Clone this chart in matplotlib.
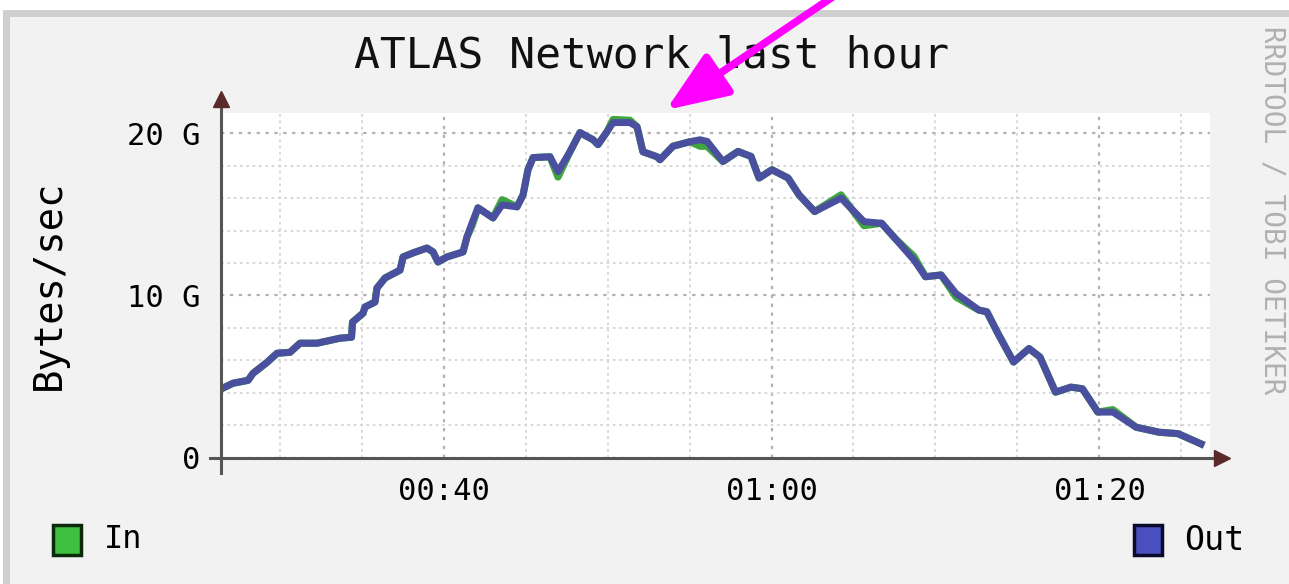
import matplotlib.pyplot as plt
from matplotlib.patches import Rectangle, FancyArrowPatch
from matplotlib.ticker import MultipleLocator

# minutes after 00:00, Bytes/sec in G
minutes = [26.48, 27.16, 28.08, 28.38, 29.24, 29.85, 30.64, 31.25, 32.29, 33.69,
           34.39, 34.45, 35.09, 35.21, 35.82, 35.94, 36.43, 37.35, 37.53, 38.14,
           38.99, 39.36, 39.66, 40.21, 41.19, 41.43, 41.74, 42.10, 43.02, 43.57,
           44.48, 44.85, 45.15, 45.46, 46.49, 46.98, 47.71, 48.32, 49.12, 49.42,
           49.97, 50.34, 51.37, 51.80, 52.16, 53.02, 53.20, 53.99, 55.03, 55.64,
           56.07, 57.04, 57.96, 58.75, 59.24, 60.03, 61.01, 61.68, 62.63, 64.24,
           65.64, 66.71, 67.53, 68.69, 69.39, 70.34, 71.25, 72.65, 73.13, 73.81,
           74.76, 75.70, 76.37, 77.32, 78.26, 78.96, 79.90, 80.82, 82.23, 83.63,
           84.79, 86.19]

out_g = [4.25, 4.58, 4.76, 5.19, 5.87, 6.43, 6.49, 7.05, 7.05, 7.36,
         7.42, 8.35, 8.90, 9.28, 9.59, 10.45, 11.07, 11.56, 12.37, 12.62,
         12.92, 12.68, 12.06, 12.37, 12.68, 13.60, 14.47, 15.40, 14.78, 15.58,
         15.46, 16.20, 17.75, 18.50, 18.55, 17.63, 18.86, 20.04, 19.60, 19.30,
         20.10, 20.66, 20.66, 20.40, 18.86, 18.55, 18.37, 19.20, 19.48, 19.60,
         19.50, 18.26, 18.88, 18.57, 17.24, 17.75, 17.24, 16.20, 15.17, 16.00,
         14.55, 14.45, 13.52, 12.18, 11.15, 11.26, 10.12, 9.09, 8.99, 7.65,
         5.89, 6.72, 6.20, 4.03, 4.34, 4.24, 2.80, 2.80, 1.87, 1.56,
         1.47, 0.84]

in_g = [4.25, 4.58, 4.76, 5.19, 5.87, 6.43, 6.49, 7.05, 7.05, 7.36,
        7.42, 8.35, 8.90, 9.28, 9.59, 10.45, 11.07, 11.56, 12.37, 12.62,
        12.92, 12.68, 12.06, 12.37, 12.68, 13.60, 14.30, 15.40, 14.78, 15.90,
        15.46, 16.20, 17.75, 18.50, 18.55, 17.30, 18.86, 20.04, 19.60, 19.30,
        20.10, 20.85, 20.80, 20.40, 18.86, 18.55, 18.37, 19.20, 19.48, 19.20,
        19.20, 18.26, 18.88, 18.57, 17.24, 17.75, 17.24, 16.20, 15.17, 16.20,
        14.30, 14.45, 13.52, 12.40, 11.15, 11.26, 9.90, 9.09, 8.99, 7.65,
        5.89, 6.72, 6.20, 4.03, 4.34, 4.24, 2.80, 2.95, 1.87, 1.56,
        1.47, 0.84]

y_ticks = [0, 10, 20]
y_labels = ["0", "10 G", "20 G"]
x_ticks = [40, 60, 80]
x_labels = ["00:40", "01:00", "01:20"]

W, H = 1289, 584
mono = "DejaVu Sans Mono"
fig = plt.figure(figsize=(W / 100, H / 100), dpi=100, facecolor="#f2f2f2")


def px(x, y):
    # pixel position (from top-left) -> figure fraction
    return (x / W, 1 - y / H)


# frame around the rrd image
fig.patches.append(Rectangle(px(0, 10), 1, 10 / H, transform=fig.transFigure,
                             facecolor="white", edgecolor="none", zorder=0))
fig.patches.append(Rectangle(px(0, 17), 1, 7 / H, transform=fig.transFigure,
                             facecolor="#cfcfcf", edgecolor="none", zorder=0))
fig.patches.append(Rectangle((0, 0), 3 / W, 1 - 10 / H, transform=fig.transFigure,
                             facecolor="white", edgecolor="none", zorder=0))
fig.patches.append(Rectangle((3 / W, 0), 7 / W, 1 - 10 / H, transform=fig.transFigure,
                             facecolor="#cfcfcf", edgecolor="none", zorder=0))

ax = fig.add_axes([221 / W, 1 - 457.5 / H, 989 / W, 344.5 / H])
ax.set_facecolor("white")

ax.plot(minutes, in_g, color="#3fa53f", lw=5.2, solid_joinstyle="round", zorder=3)
ax.plot(minutes, out_g, color="#4a4f9f", lw=5.0, solid_joinstyle="round", zorder=4)

ax.set_xlim(26.43, 86.74)
ax.set_ylim(0, 21.25)

ax.xaxis.set_minor_locator(MultipleLocator(5))
ax.yaxis.set_minor_locator(MultipleLocator(2))
ax.set_xticks(x_ticks)
ax.set_xticklabels(x_labels)
ax.set_yticks(y_ticks)
ax.set_yticklabels(y_labels)
ax.grid(which="major", color="#b8b0b0", linestyle=(0, (1.5, 2.5)), lw=1.6)
ax.grid(which="minor", color="#d6d6d6", linestyle=(0, (1.5, 2.0)), lw=1.3)
ax.set_axisbelow(True)

ax.tick_params(which="both", length=0)
ax.tick_params(axis="x", pad=14)
ax.tick_params(axis="y", pad=15)
for lbl in ax.get_xticklabels() + ax.get_yticklabels():
    lbl.set_fontfamily(mono)
    lbl.set_fontsize(22)

for sp in ax.spines.values():
    sp.set_visible(False)

# axis lines with arrow heads
ax.plot([0, 0], [-0.045, 1.03], transform=ax.transAxes, color="#555555", lw=2.2,
        clip_on=False, zorder=5)
ax.plot([-0.011, 1.008], [0, 0], transform=ax.transAxes, color="#555555", lw=2.2,
        clip_on=False, zorder=5)
ax.plot([0], [1.04], transform=ax.transAxes, marker="^", ms=11, color="#5a2a2a",
        clip_on=False, zorder=6)
ax.plot([1.012], [0], transform=ax.transAxes, marker=">", ms=11, color="#5a2a2a",
        clip_on=False, zorder=6)

fig.text(*px(652, 55), "ATLAS Network last hour", family=mono, fontsize=31,
         ha="center", va="center", color="#111111")
ax.set_ylabel("Bytes/sec", family=mono, fontsize=28, labelpad=42)
fig.text(*px(1272, 210), "RRDTOOL / TOBI OETIKER", family=mono, fontsize=20,
         rotation=270, ha="center", va="center", color="#b0b0b0")

# legend
fig.patches.append(Rectangle(px(53, 555), 28 / W, 30 / H, transform=fig.transFigure,
                             facecolor="#3fbf3f", edgecolor="#0a2a0a", lw=2.5, zorder=3))
fig.text(*px(104, 540), "In", family=mono, fontsize=23, ha="left", va="center")
fig.patches.append(Rectangle(px(1134, 555), 28 / W, 30 / H, transform=fig.transFigure,
                             facecolor="#4a4fc0", edgecolor="#0a0a2a", lw=2.5, zorder=3))
fig.text(*px(1184, 540), "Out", family=mono, fontsize=24, ha="left", va="center")

# magenta pointer arrow
arrow = FancyArrowPatch(px(834, -4), px(666, 110), transform=fig.transFigure,
                        arrowstyle="-|>,head_length=1.9,head_width=0.75",
                        mutation_scale=20, color="#ff00ff", lw=5.5,
                        shrinkA=0, shrinkB=0, zorder=10)
fig.add_artist(arrow)

fig.savefig("out.png", dpi=100, facecolor=fig.get_facecolor())
